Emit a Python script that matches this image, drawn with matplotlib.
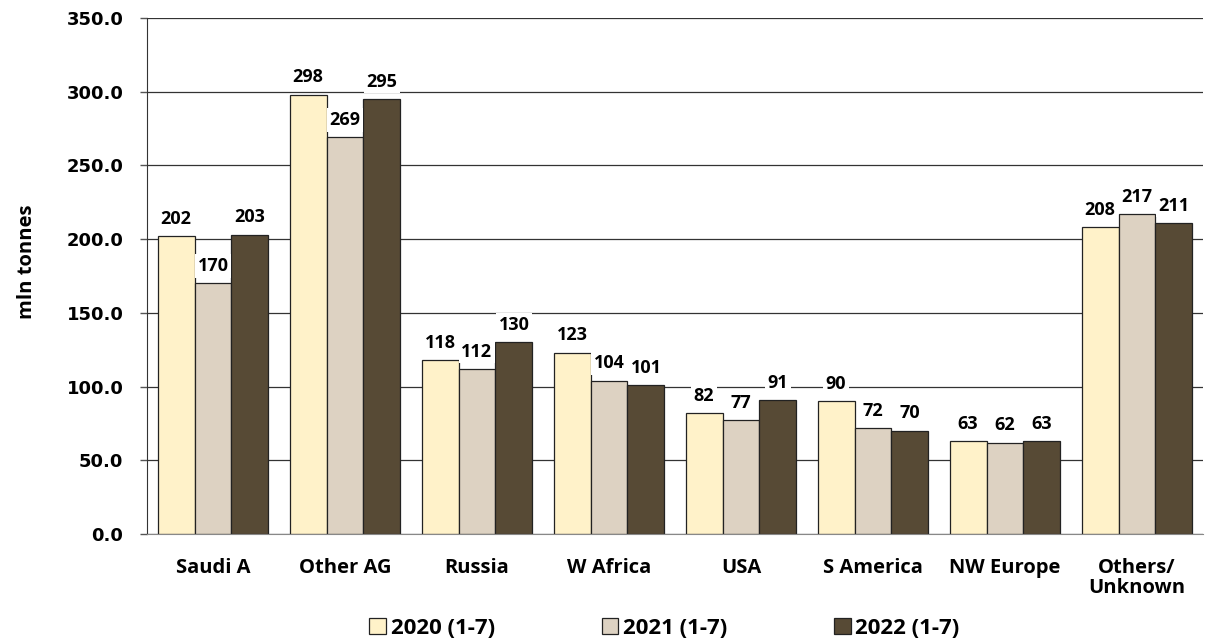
import numpy as np
import matplotlib.pyplot as plt

regions = ["Saudi A", "Other AG", "Russia", "W Africa", "USA", "S America", "NW Europe", "Others/\nUnknown"]
y2020 = [202, 298, 118, 123, 82, 90, 63, 208]
y2021 = [170, 269, 112, 104, 77, 72, 62, 217]
y2022 = [203, 295, 130, 101, 91, 70, 63, 211]
series = ["2020 (1-7)", "2021 (1-7)", "2022 (1-7)"]
colors = ["#FFF2C9", "#DDD2C2", "#574A35"]

plt.rcParams['font.family'] = ['Open Sans', 'DejaVu Sans']
plt.rcParams['font.weight'] = 'bold'

fig = plt.figure(figsize=(12.12, 6.42), dpi=100)
ax = fig.add_axes([147 / 1212, 1 - 534 / 642, (1203 - 147) / 1212, (534 - 18) / 642])

x = np.arange(len(regions))
w = 0.28
for i, (vals, lab, c) in enumerate(zip([y2020, y2021, y2022], series, colors)):
    pos = x + (i - 1) * w
    bars = ax.bar(pos, vals, w, color=c, edgecolor="#222222", linewidth=0.9, label=lab, zorder=2)
    for b, v in zip(bars, vals):
        ax.annotate(f"{v}", (b.get_x() + b.get_width() / 2, v), xytext=(0, 6),
                    textcoords="offset points", ha="center", va="bottom",
                    fontsize=13, fontweight="bold", zorder=4,
                    bbox=dict(facecolor="white", edgecolor="none", pad=2))

ax.set_xlim(-0.5, len(regions) - 0.5)
ax.set_ylim(0, 350)
ax.set_yticks(np.arange(0, 351, 50))
ax.set_yticklabels([f"{t:.1f}" for t in np.arange(0, 351, 50)], fontsize=13,
                   fontweight="bold", family="DejaVu Sans")
ax.set_xticks(x)
ax.set_xticklabels(regions, fontsize=14.5, fontweight="bold", linespacing=1.0)
ax.tick_params(axis="x", length=0, pad=17)
ax.tick_params(axis="y", length=5, width=1, color="#555555", pad=12)
ax.yaxis.grid(True, color="#333333", linewidth=0.9, zorder=0)
ax.set_axisbelow(True)
for s in ["top", "right"]:
    ax.spines[s].set_visible(False)
ax.spines["left"].set_color("#333333")
ax.spines["bottom"].set_color("#888888")
fig.text(27 / 1212, 1 - 262 / 642, "mln tonnes", rotation=90, ha="center", va="center",
         fontsize=14.5, fontweight="bold")

ax.legend(loc="center", bbox_to_anchor=(0.49, -0.183), ncol=3, frameon=False,
          handlelength=0.76, handleheight=0.76, handletextpad=0.2,
          columnspacing=4.8, prop={"weight": "bold", "size": 16})

fig.savefig("out.png", dpi=100)
